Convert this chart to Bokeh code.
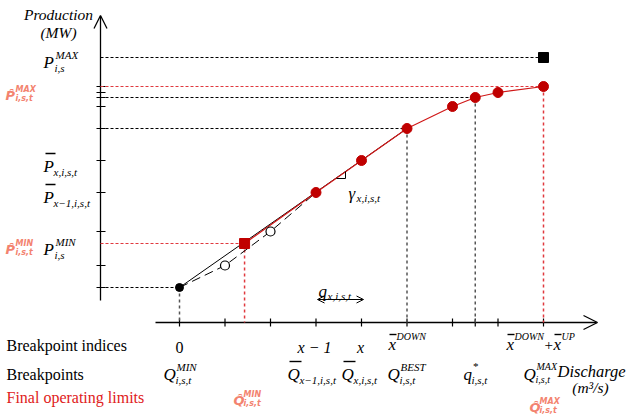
from bokeh.plotting import figure
from bokeh.models import Range1d, Arrow, OpenHead
from bokeh.embed import file_html
from bokeh.resources import INLINE
from bokeh.core.properties import value

# ---------------- data (discharge in breakpoint-index units, production in MW-like units)
breakpoints = [0, 1, 2, 3, 4, 5, 6, 7, 8]
q_star = 6.5
tick_production = [35, 57, 91, 130, 162, 194, 216, 225, 230, 236]

black_q = [0, 5]
black_p = [35, 194]
approx_q = [0, 1, 2, 3]
approx_p = [35, 57, 91, 130]
open_q = [1, 2]
open_p = [57, 91]
red_q = [1.43, 3, 4, 5, 6, 6.5, 7, 8]
red_p = [79, 130, 162, 194, 216, 225, 230, 236]
red_dot_q = [3, 4, 5, 6, 6.5, 7, 8]
red_dot_p = [130, 162, 194, 216, 225, 230, 236]
q_min, p_min = 0, 35
q_lo, p_lo = 1.43, 79
q_hi, p_hi = 8, 236
q_pmax, p_max = 8, 265
q_best, p_best = 5, 194
p_qstar = 225

# ---------------- layout helpers (image pixel -> data)
PX = 45.5
def X(px):
    return (px - 179) / PX
def Y(py):
    return 322 - py

p = figure(width=631, height=414, x_range=Range1d(X(0), X(631)), y_range=Range1d(Y(414), Y(0)),
           output_backend="svg", toolbar_location=None, min_border=0,
           x_axis_type=None, y_axis_type=None)
p.outline_line_color = None
p.background_fill_color = "white"

YAX = X(100)
SERIF = "Liberation Serif"
BLK = "#000000"
DRED = "#c00000"
LRED = "#e0393e"
SALMON = "#f3836f"
GRAY = "#555555"

# axes
p.segment(x0=[YAX], y0=[Y(300)], x1=[YAX], y1=[Y(16)], line_color=BLK, line_width=1.3)
p.segment(x0=[X(155)], y0=[0], x1=[X(596)], y1=[0], line_color=BLK, line_width=1.3)
p.add_layout(Arrow(end=OpenHead(size=13, line_width=1.3), x_start=YAX, y_start=Y(40), x_end=YAX, y_end=Y(15),
                   line_width=0, line_alpha=0))
p.add_layout(Arrow(end=OpenHead(size=14, line_width=1.3), x_start=X(570), y_start=0, x_end=X(597), y_end=0,
                   line_width=0, line_alpha=0))

# ticks
p.segment(x0=[X(96)] * len(tick_production), y0=tick_production, x1=[X(105)] * len(tick_production),
          y1=tick_production, line_color=BLK, line_width=1.2)
xt = breakpoints + [q_star]
p.segment(x0=xt, y0=[-4] * len(xt), x1=xt, y1=[4] * len(xt), line_color=BLK, line_width=1.2)

# horizontal guide lines
p.segment(x0=[YAX] * 4, y0=[p_max, p_qstar, p_best, p_min], x1=[q_pmax, q_star, q_best, q_min],
          y1=[p_max, p_qstar, p_best, p_min], line_color=BLK, line_width=1, line_dash="3 2")
p.segment(x0=[YAX] * 2, y0=[p_hi, p_lo], x1=[q_hi, q_lo], y1=[p_hi, p_lo],
          line_color=LRED, line_width=1, line_dash="3 2")
# vertical guide lines
p.segment(x0=[q_min, q_best, q_star], y0=[p_min, p_best, p_qstar], x1=[q_min, q_best, q_star], y1=[0, 0, 0],
          line_color=GRAY, line_width=1.5, line_dash="3 3")
p.segment(x0=[q_lo, q_hi], y0=[p_lo, p_hi], x1=[q_lo, q_hi], y1=[0, 0],
          line_color=LRED, line_width=1.5, line_dash="3 3")

# curves
p.line(approx_q, approx_p, line_color=BLK, line_width=1, line_dash="9 5")
p.line(black_q, black_p, line_color=BLK, line_width=1)
p.line(red_q, red_p, line_color="#d01818", line_width=1.2)

# markers
p.scatter(open_q, open_p, marker="circle", size=9, fill_color="white", line_color=BLK, line_width=1.2)
p.scatter([q_min], [p_min], marker="circle", size=8, fill_color=BLK, line_color=BLK)
p.scatter(red_dot_q, red_dot_p, marker="circle", size=10, fill_color=DRED, line_color=DRED)
p.scatter([q_lo], [p_lo], marker="square", size=10, fill_color=DRED, line_color=DRED)
p.scatter([q_pmax], [p_max], marker="square", size=10, fill_color=BLK, line_color=BLK)

# slope triangle
p.line([X(336), X(345), X(345)], [Y(178), Y(178), Y(171)], line_color=BLK, line_width=1)

# double arrow for q_{x,i,s,t}
p.add_layout(Arrow(start=OpenHead(size=7, line_width=1), end=OpenHead(size=7, line_width=1),
                   x_start=X(317), y_start=Y(299), x_end=X(363), y_end=Y(299), line_width=1))

# ---------------- texts
def txt(xp, yb, s, size=17, style="italic", color=BLK, align="left", font=SERIF):
    p.text(x=[X(xp)], y=[Y(yb)], text=[s], text_font=value(font), text_font_size=f"{size}px",
           text_font_style=style, text_color=color, text_align=align, text_baseline="alphabetic")

def mlabel(xp, yb, base, sup=None, sub=None, bw=10, size=17, ss=11, color=BLK, font=SERIF,
           style="italic", sup_dy=-8, sub_dy=5, bar=False, sub_dx=-1, bar_dy=-13, bar_x0=2, bar_x1=1):
    txt(xp, yb, base, size, style, color, font=font)
    if sup:
        txt(xp + bw, yb + sup_dy, sup, ss, style, color, font=font)
    if sub:
        txt(xp + bw + sub_dx, yb + sub_dy, sub, ss, style, color, font=font)
    if bar:
        p.segment(x0=[X(xp + bar_x0)], y0=[Y(yb + bar_dy)], x1=[X(xp + bw + bar_x1)], y1=[Y(yb + bar_dy)],
                  line_color=color, line_width=1.4)

def rlabel(xp, yb, base, sup, sub):
    mlabel(xp, yb, base, sup, sub, bw=10, size=13, ss=8, color=SALMON, font="DejaVu Sans",
           style="bold italic", sup_dy=-6, sub_dy=3, sub_dx=0)

txt(58, 14, "Production", 15.5, align="center")
txt(58, 32, "(MW)", 15.5, align="center")
mlabel(43, 62, "P", "MAX", "i,s", bw=12)
rlabel(5, 95, "P\u0302", "MAX", "i,s,t")
mlabel(43, 166, "P", None, "x,i,s,t", bw=11, bar=True)
mlabel(43, 197, "P", None, "x\u22121,i,s,t", bw=11, bar=True)
rlabel(5, 249, "P\u0302", "MIN", "i,s,t")
mlabel(43, 249, "P", "MIN", "i,s", bw=12)

txt(6, 345, "Breakpoint indices", 16, style="normal")
txt(6, 374, "Breakpoints", 16, style="normal")
txt(6, 397, "Final operating limits", 16, style="normal", color="#e02020")

txt(179, 347, "0", 16, style="normal", align="center")
txt(314, 347, "x \u2212 1", 16, align="center")
txt(360, 347, "x", 16, align="center")
mlabel(388, 344, "x", "DOWN", None, bw=8, size=17, ss=10, bar=True, sup_dy=-8, bar_dy=-10, bar_x0=1, bar_x1=0)
mlabel(506, 344, "x", "DOWN", None, bw=8, size=17, ss=10, bar=True, sup_dy=-8, bar_dy=-10, bar_x0=1, bar_x1=0)
txt(544, 344, "+", 15, style="normal")
mlabel(553, 344, "x", "UP", None, bw=8, size=17, ss=10, bar=True, sup_dy=-8, bar_dy=-10, bar_x0=1, bar_x1=0)

mlabel(163, 374, "Q", "MIN", "i,s,t", bw=13)
mlabel(287, 374, "Q", None, "x\u22121,i,s,t", bw=13, bar=True)
mlabel(341, 374, "Q", None, "x,i,s,t", bw=13, bar=True)
mlabel(387, 374, "Q", "BEST", "i,s,t", bw=13)
mlabel(463, 374, "q", "*", "i,s,t", bw=9, sup_dy=-9)
mlabel(523, 374, "Q", "MAX", "i,s,t", bw=13, ss=10)
txt(557, 371, "Discharge", 16.5)
txt(590, 387, "(m\u00b3/s)", 15.5, align="center")

rlabel(233, 400, "Q\u0302", "MIN", "i,s,t")
rlabel(529, 407, "Q\u0302", "MAX", "i,s,t")

mlabel(318, 291, "q", None, "x,i,s,t", bw=10, sub_dy=4)
mlabel(348, 193, "\u03b3", None, "x,i,s,t", bw=9, sub_dy=4)

open("out.html", "w").write(file_html(p, INLINE))
